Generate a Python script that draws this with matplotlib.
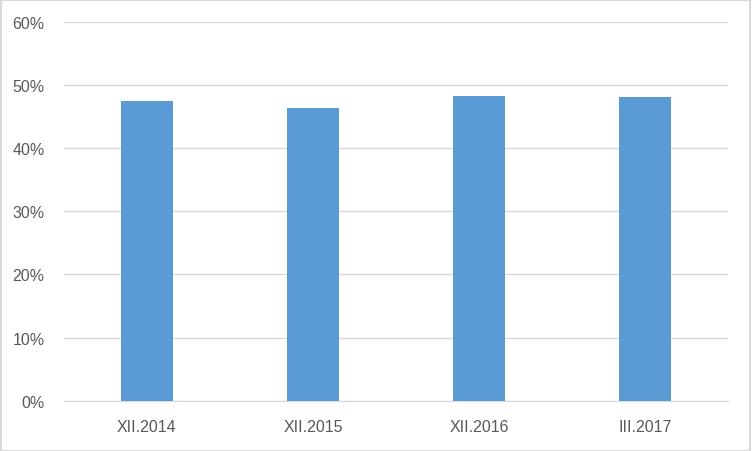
import matplotlib
matplotlib.use('Agg')
import matplotlib.pyplot as plt
from matplotlib.ticker import PercentFormatter

categories = ['XII.2014', 'XII.2015', 'XII.2016', 'III.2017']
values = [47.4, 46.3, 48.2, 48.1]
yticks = [0, 10, 20, 30, 40, 50, 60]

plt.rcParams['font.family'] = ['Liberation Sans', 'DejaVu Sans']

fig = plt.figure(figsize=(7.52, 4.52), dpi=100)
ax = fig.add_axes([0.085, 0.111, 0.883, 0.839])

x = range(len(categories))
ax.bar(x, values, width=0.31, color='#5B9BD5', zorder=3)

ax.set_xlim(-0.5, len(categories) - 0.5)
ax.set_ylim(0, 60)
ax.set_yticks(yticks)
ax.yaxis.set_major_formatter(PercentFormatter(decimals=0))
ax.set_xticks(list(x))
ax.set_xticklabels(categories)
ax.grid(axis='y', color='#D9D9D9', linewidth=1, zorder=0)
for s in ['top', 'right', 'left']:
    ax.spines[s].set_visible(False)
ax.spines['bottom'].set_color('#D9D9D9')
ax.tick_params(axis='both', length=0, labelsize=11.5, colors='#595959')
ax.tick_params(axis='x', pad=13)
ax.tick_params(axis='y', pad=14)

# outer border like the chart frame
fig.patches.append(plt.Rectangle((0.001, 0.001), 0.997, 0.996, transform=fig.transFigure,
                                 fill=False, edgecolor='#D9D9D9', linewidth=1.5))

fig.savefig('out.png', dpi=100)
